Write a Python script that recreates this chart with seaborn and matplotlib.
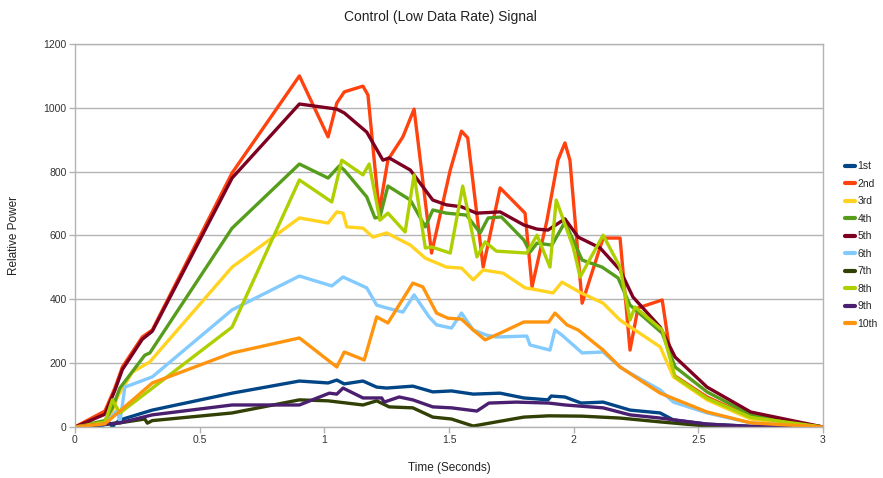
import numpy as np
import pandas as pd
import matplotlib
matplotlib.use("Agg")
import matplotlib.pyplot as plt
import seaborn as sns

names = ["1st", "2nd", "3rd", "4th", "5th", "6th", "7th", "8th", "9th", "10th"]
colors = ["#004586", "#ff420e", "#ffd320", "#579d1c", "#7e0021",
          "#83caff", "#314004", "#aecf00", "#4b1f6f", "#ff950e"]

x_1st = [0, 0.10, 0.14, 0.15, 0.16, 0.18, 0.31, 0.63, 0.90, 1.015, 1.05, 1.08, 1.155, 1.21, 1.25, 1.355,
         1.435, 1.51, 1.597, 1.705, 1.80, 1.897, 1.91, 1.965, 2.03, 2.118, 2.226, 2.347, 2.40, 2.535, 2.71, 3.0]
y_1st = [0, 3, 12, 0, 10, 22, 53, 106, 144, 138, 147, 135, 144, 125, 122, 128,
         110, 113, 103, 106, 91, 85, 97, 94, 75, 78, 53, 44, 22, 9, 2, 0]

x_2nd = [0, 0.12, 0.16, 0.19, 0.27, 0.31, 0.63, 0.90, 1.015, 1.05, 1.08, 1.155, 1.175, 1.22, 1.255, 1.315,
         1.36, 1.43, 1.505, 1.55, 1.575, 1.637, 1.705, 1.805, 1.833, 1.893, 1.937, 1.965, 1.985, 2.034,
         2.118, 2.186, 2.226, 2.258, 2.355, 2.40, 2.535, 2.71, 3.0]
y_2nd = [0, 50, 122, 188, 282, 304, 796, 1100, 909, 1015, 1050, 1068, 1040, 674, 837, 909,
         996, 545, 805, 927, 906, 501, 749, 670, 439, 648, 836, 890, 836, 388,
         592, 592, 241, 373, 398, 163, 94, 31, 0]

x_3rd = [0, 0.12, 0.15, 0.17, 0.23, 0.30, 0.63, 0.90, 1.015, 1.05, 1.075, 1.09, 1.155, 1.195, 1.25, 1.345,
         1.405, 1.49, 1.55, 1.597, 1.637, 1.717, 1.805, 1.85, 1.917, 1.953, 2.03, 2.118, 2.186, 2.347,
         2.40, 2.535, 2.71, 3.0]
y_3rd = [0, 15, 50, 94, 172, 204, 501, 655, 639, 674, 670, 627, 623, 595, 608, 570,
         529, 501, 498, 461, 492, 482, 436, 430, 420, 454, 420, 388, 335, 251,
         157, 85, 25, 0]

x_4th = [0, 0.12, 0.15, 0.18, 0.28, 0.30, 0.63, 0.90, 1.015, 1.06, 1.08, 1.17, 1.203, 1.223, 1.255, 1.345,
         1.405, 1.435, 1.49, 1.57, 1.625, 1.657, 1.71, 1.80, 1.825, 1.853, 1.913, 1.965, 2.034, 2.114,
         2.178, 2.226, 2.355, 2.407, 2.535, 2.71, 3.0]
y_4th = [0, 20, 60, 122, 225, 232, 623, 824, 780, 818, 805, 721, 655, 658, 755, 711,
         627, 680, 670, 664, 608, 655, 658, 586, 548, 576, 570, 642, 523, 501,
         467, 382, 294, 188, 110, 38, 0]

x_5th = [0, 0.12, 0.16, 0.19, 0.27, 0.31, 0.63, 0.90, 1.05, 1.08, 1.17, 1.235, 1.26, 1.345, 1.435, 1.49,
         1.55, 1.61, 1.705, 1.80, 1.853, 1.897, 1.965, 2.018, 2.106, 2.186, 2.238, 2.347, 2.407, 2.535,
         2.71, 3.0]
y_5th = [0, 40, 115, 180, 275, 300, 780, 1012, 996, 984, 924, 836, 843, 805, 711, 696,
         690, 670, 674, 633, 620, 617, 652, 595, 561, 492, 407, 313, 219, 125,
         47, 0]

x_6th = [0, 0.12, 0.17, 0.18, 0.20, 0.31, 0.63, 0.90, 1.03, 1.075, 1.17, 1.21, 1.25, 1.315, 1.36, 1.42,
         1.45, 1.51, 1.55, 1.597, 1.65, 1.69, 1.812, 1.825, 1.905, 1.925, 1.953, 2.034, 2.118, 2.186,
         2.226, 2.347, 2.40, 2.535, 2.71, 3.0]
y_6th = [0, 8, 53, 13, 125, 157, 367, 473, 442, 470, 436, 382, 373, 360, 414, 345,
         320, 310, 357, 304, 288, 282, 285, 257, 241, 304, 288, 232, 235, 188,
         169, 116, 78, 44, 13, 0]

x_7th = [0, 0.18, 0.28, 0.29, 0.31, 0.63, 0.90, 1.015, 1.155, 1.21, 1.26, 1.355, 1.435, 1.51, 1.597, 1.69,
         1.80, 1.90, 2.034, 2.186, 2.347, 2.535, 2.71, 3.0]
y_7th = [0, 13, 25, 12, 20, 44, 85, 82, 69, 82, 63, 60, 31, 25, 3, 16,
         31, 35, 34, 28, 16, 3, 1, 0]

x_8th = [0, 0.12, 0.15, 0.18, 0.63, 0.90, 1.03, 1.07, 1.155, 1.18, 1.223, 1.255, 1.324, 1.36, 1.405, 1.43,
         1.505, 1.555, 1.612, 1.645, 1.69, 1.812, 1.853, 1.905, 1.93, 1.998, 2.026, 2.118, 2.186, 2.226,
         2.246, 2.355, 2.407, 2.535, 2.71, 3.0]
y_8th = [0, 15, 85, 44, 313, 774, 705, 836, 790, 824, 648, 670, 611, 790, 561, 564,
         545, 755, 533, 580, 551, 545, 601, 501, 711, 564, 470, 601, 501, 335,
         376, 304, 157, 90, 30, 0]

x_9th = [0, 0.18, 0.31, 0.63, 0.90, 1.02, 1.05, 1.075, 1.155, 1.23, 1.24, 1.30, 1.355, 1.435, 1.51, 1.612,
         1.66, 1.77, 1.90, 1.965, 2.118, 2.226, 2.347, 2.535, 2.71, 3.0]
y_9th = [0, 13, 38, 69, 69, 106, 103, 122, 91, 91, 78, 94, 85, 63, 60, 50,
         75, 78, 75, 69, 60, 38, 28, 9, 2, 0]

x_10th = [0, 0.12, 0.18, 0.31, 0.63, 0.90, 1.05, 1.08, 1.16, 1.21, 1.255, 1.355, 1.395, 1.45, 1.495, 1.55,
          1.597, 1.645, 1.705, 1.80, 1.90, 1.925, 1.973, 2.018, 2.118, 2.186, 2.347, 2.535, 2.71, 3.0]
y_10th = [0, 10, 50, 138, 232, 279, 188, 235, 210, 345, 326, 451, 439, 357, 341, 338,
          304, 273, 294, 329, 329, 357, 320, 304, 241, 188, 106, 47, 13, 0]

xs = [x_1st, x_2nd, x_3rd, x_4th, x_5th, x_6th, x_7th, x_8th, x_9th, x_10th]
ys = [y_1st, y_2nd, y_3rd, y_4th, y_5th, y_6th, y_7th, y_8th, y_9th, y_10th]

x_ticks = [0, 0.5, 1, 1.5, 2, 2.5, 3]
x_tick_labels = ["0", "0.5", "1", "1.5", "2", "2.5", "3"]
y_ticks = [0, 200, 400, 600, 800, 1000, 1200]

frames = []
for n, xv, yv in zip(names, xs, ys):
    frames.append(pd.DataFrame({"t": xv, "p": yv, "series": n, "order": range(len(xv))}))
df = pd.concat(frames, ignore_index=True)

sns.set_style("white")
plt.rcParams["font.family"] = ["Liberation Sans", "DejaVu Sans"]

fig = plt.figure(figsize=(8.83, 4.78), dpi=100)
ax = fig.add_axes([75 / 883, 51 / 478, 748 / 883, 383 / 478])

sns.lineplot(data=df, x="t", y="p", hue="series", hue_order=names,
             palette=dict(zip(names, colors)), estimator=None, sort=False,
             linewidth=2.4, ax=ax, legend=True)

ax.set_xlim(0, 3)
ax.set_ylim(0, 1200)
ax.set_xticks(x_ticks)
ax.set_xticklabels(x_tick_labels)
ax.set_yticks(y_ticks)
ax.yaxis.grid(True, color="#b3b3b3", linewidth=1)
ax.xaxis.grid(False)
ax.set_axisbelow(True)
for s in ax.spines.values():
    s.set_color("#b3b3b3")
    s.set_linewidth(1)
ax.tick_params(axis="both", which="both", length=4, width=1, color="#b3b3b3",
               labelsize=7.5, labelcolor="#333333", pad=2, left=True, bottom=True)

ax.set_xlabel("Time (Seconds)", fontsize=8.5, color="#222222", labelpad=12)
ax.set_ylabel("Relative Power", fontsize=8.5, color="#222222", labelpad=17)
fig.text(440 / 883, 1 - 17 / 478, "Control (Low Data Rate) Signal", ha="center", va="center",
         fontsize=10, color="#222222")

handles, labels = ax.get_legend_handles_labels()
ax.legend_.remove()
for h in handles:
    h.set_linewidth(3)
fig.legend(handles, labels, loc="center left", bbox_to_anchor=(845 / 883, 1 - 245 / 478),
           frameon=False, fontsize=7.5, handlelength=1.0, handletextpad=0.2,
           labelspacing=0.72, borderpad=0, borderaxespad=0)

fig.savefig("out.png", dpi=100)
